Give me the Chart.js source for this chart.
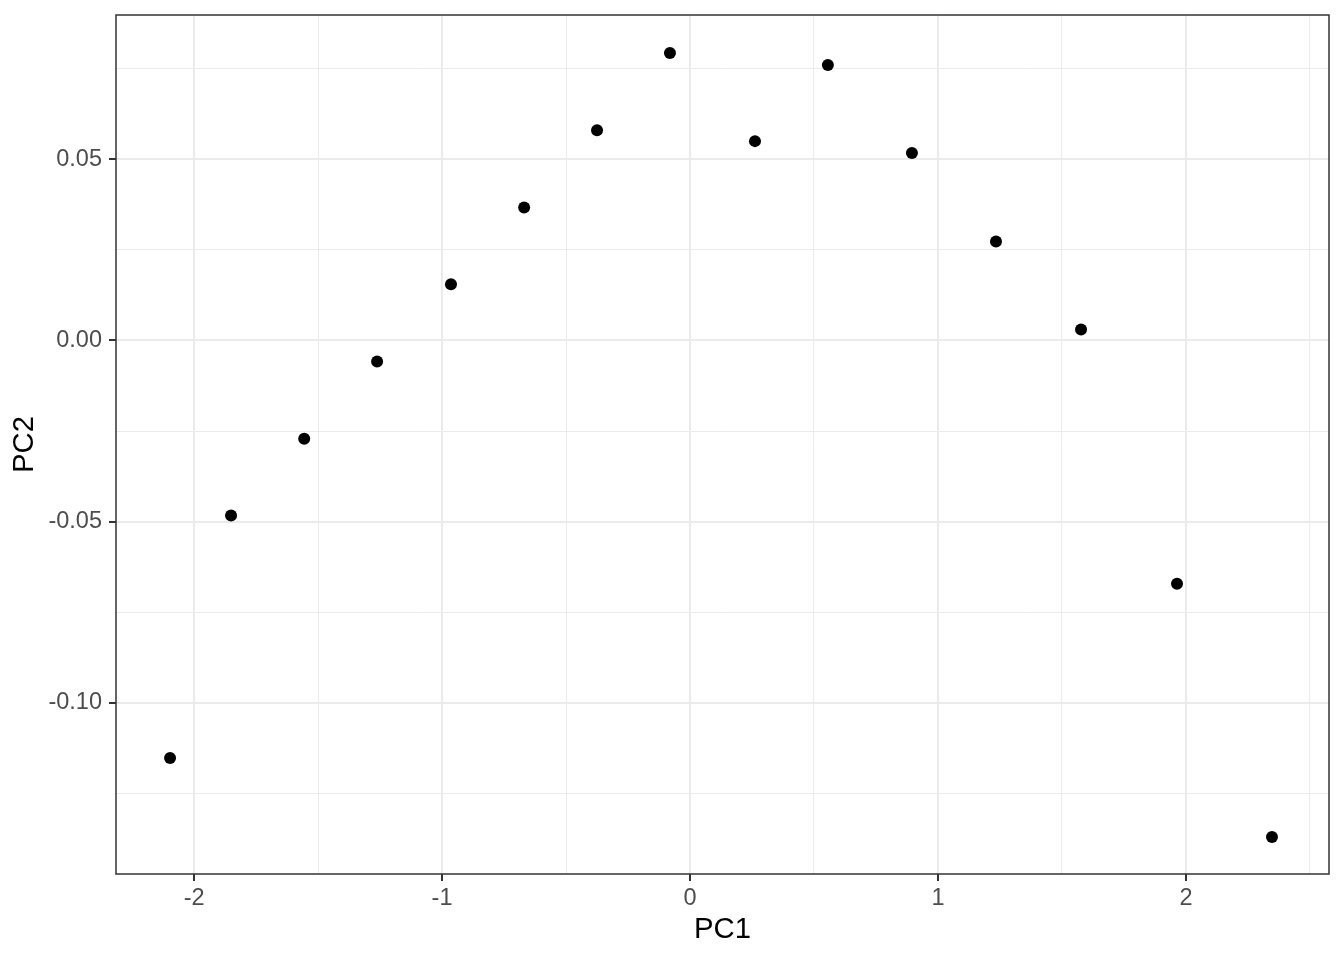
<!DOCTYPE html>
<html>
<head>
<meta charset="utf-8">
<script src="https://cdn.jsdelivr.net/npm/chart.js@4/dist/chart.umd.min.js"></script>
<style>
  html, body { margin: 0; padding: 0; background: #fff; }
  #wrap { width: 1344px; height: 960px; }
</style>
</head>
<body>
<div id="wrap"><canvas id="pcaChart" width="1344" height="960"></canvas></div>
<script>
// values
const pc1 = [-2.097, -1.851, -1.556, -1.262, -0.964, -0.669, -0.375, -0.081, 0.262, 0.556, 0.895, 1.234, 1.577, 1.964, 2.347];
const pc2 = [-0.1152, -0.0483, -0.0271, -0.0058, 0.0155, 0.0367, 0.0580, 0.0793, 0.0550, 0.0760, 0.0517, 0.0273, 0.0030, -0.0671, -0.1370];

const xRange = [-2.315, 2.577];
const yRange = [-0.1472, 0.0898];

const points = pc1.map((x, i) => ({ x: x, y: pc2[i] }));

// major = on the labelled step, minor = half step
const isMajor = (v, step) => Math.abs(v / step - Math.round(v / step)) < 1e-6;

//panel border like theme_bw
const panelBorder = {
    id: 'panelBorder',
    afterDatasetsDraw(chart) {
        const a = chart.chartArea;
        const c = chart.ctx;
        c.save();
        c.strokeStyle = '#333333';
        c.lineWidth = 1.5;
        c.strokeRect(a.left, a.top, a.right - a.left, a.bottom - a.top);
        c.restore();
    }
};

const ctx = document.getElementById('pcaChart');

new Chart(ctx, {
    type: 'scatter',
    data: {
        datasets: [{
            label: 'PC',
            data: points,
            backgroundColor: '#000000',
            borderColor: '#000000',
            pointRadius: 6,
            pointHoverRadius: 6,
            borderWidth: 0
        }]
    },
    options: {
        responsive: false,
        animation: false,
        events: [],
        layout: {
            padding: { top: 15, right: 15, bottom: 0, left: 0 }
        },
        plugins: {
            legend: { display: false },
            tooltip: { enabled: false }
        },
        scales: {
            x: {
                type: 'linear',
                min: xRange[0],
                max: xRange[1],
                afterFit: (scale) => {
                    scale.height = 86;
                    scale.paddingLeft = 0;
                    scale.paddingRight = 0;
                },
                border: { display: false },
                grid: {
                    color: '#ebebeb',
                    lineWidth: (c) => isMajor(c.tick.value, 1) ? 2 : 1,
                    tickColor: (c) => isMajor(c.tick.value, 1) ? '#333333' : 'rgba(0,0,0,0)',
                    tickWidth: 2,
                    tickLength: 7
                },
                ticks: {
                    stepSize: 0.5,
                    includeBounds: false,
                    autoSkip: false,
                    maxRotation: 0,
                    padding: 3,
                    color: '#4d4d4d',
                    font: { family: 'Liberation Sans', size: 23.5 },
                    callback: (v) => isMajor(v, 1) ? String(Math.round(v)) : ''
                },
                title: {
                    display: true,
                    text: 'PC1',
                    color: '#000000',
                    font: { family: 'Liberation Sans', size: 29.3 },
                    padding: { top: 0, bottom: 13 }
                }
            },
            y: {
                type: 'linear',
                min: yRange[0],
                max: yRange[1],
                afterFit: (scale) => {
                    scale.width = 116;
                    scale.paddingTop = 0;
                    scale.paddingBottom = 0;
                },
                border: { display: false },
                grid: {
                    color: '#ebebeb',
                    lineWidth: (c) => isMajor(c.tick.value, 0.05) ? 2 : 1,
                    tickColor: (c) => isMajor(c.tick.value, 0.05) ? '#333333' : 'rgba(0,0,0,0)',
                    tickWidth: 2,
                    tickLength: 7
                },
                ticks: {
                    stepSize: 0.025,
                    includeBounds: false,
                    autoSkip: false,
                    padding: 7,
                    color: '#4d4d4d',
                    font: { family: 'Liberation Sans', size: 23.5 },
                    callback: (v) => isMajor(v, 0.05) ? (Math.round(v * 100) / 100).toFixed(2) : ''
                },
                title: {
                    display: true,
                    text: 'PC2',
                    color: '#000000',
                    font: { family: 'Liberation Sans', size: 29.3 },
                    padding: { top: 7, bottom: 0 }
                }
            }
        }
    },
    plugins: [panelBorder]
});
</script>
</body>
</html>
